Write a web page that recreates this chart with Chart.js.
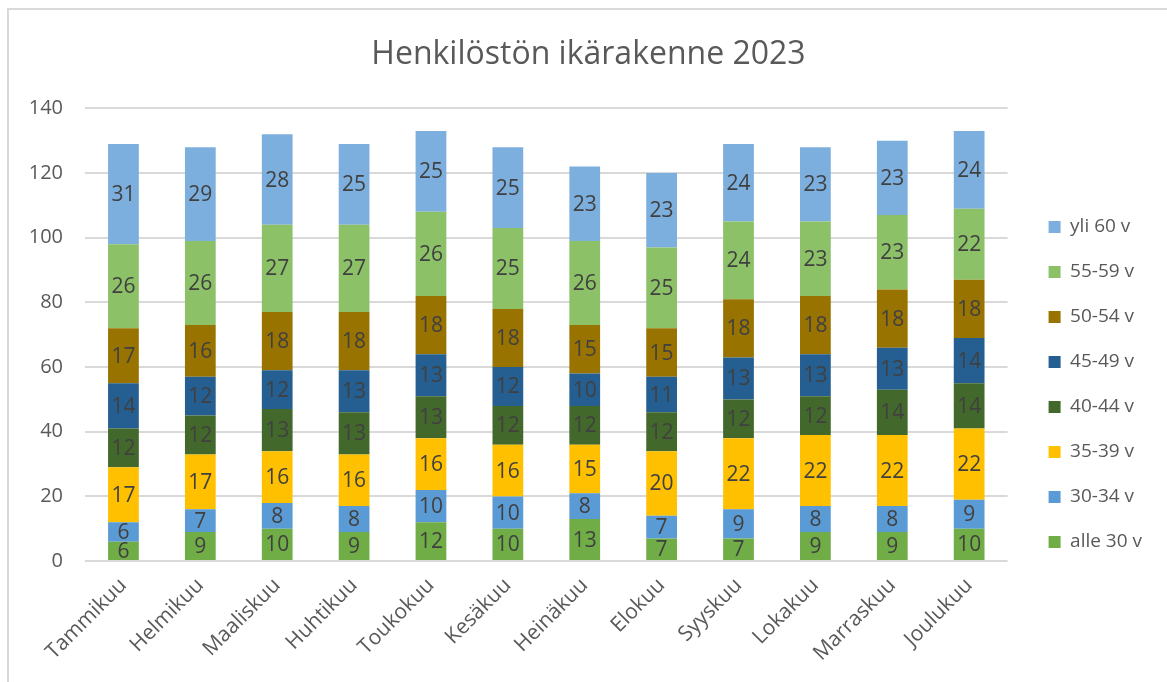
<!DOCTYPE html>
<html>
<head>
<meta charset="utf-8">
<script src="https://cdn.jsdelivr.net/npm/chart.js@4"></script>
<style>
    html, body { margin: 0; padding: 0; background: #fff; }
    #wrap { position: relative; width: 1167px; height: 682px; overflow: hidden; }
    #frame { position: absolute; left: 7px; top: 8px; width: 1300px; height: 800px; border-left: 2px solid #d9d9d9; border-top: 2px solid #d9d9d9; }
    canvas { position: absolute; left: 0; top: 0; }
</style>
</head>
<body>
<div id="wrap">
    <div id="frame"></div>
    <canvas id="ageChart" width="1167" height="682"></canvas>
</div>
<script>
const months = ['Tammikuu', 'Helmikuu', 'Maaliskuu', 'Huhtikuu', 'Toukokuu', 'Kesäkuu',
    'Heinäkuu', 'Elokuu', 'Syyskuu', 'Lokakuu', 'Marraskuu', 'Joulukuu'];

const alle30 = [6, 9, 10, 9, 12, 10, 13, 7, 7, 9, 9, 10];
const v30_34 = [6, 7, 8, 8, 10, 10, 8, 7, 9, 8, 8, 9];
const v35_39 = [17, 17, 16, 16, 16, 16, 15, 20, 22, 22, 22, 22];
const v40_44 = [12, 12, 13, 13, 13, 12, 12, 12, 12, 12, 14, 14];
const v45_49 = [14, 12, 12, 13, 13, 12, 10, 11, 13, 13, 13, 14];
const v50_54 = [17, 16, 18, 18, 18, 18, 15, 15, 18, 18, 18, 18];
const v55_59 = [26, 26, 27, 27, 26, 25, 26, 25, 24, 23, 23, 22];
const yli60 = [31, 29, 28, 25, 25, 25, 23, 23, 24, 23, 23, 24];

const yTicks = [0, 20, 40, 60, 80, 100, 120, 140];

const FONT = "'Open Sans', sans-serif";

// values written in the middle of each bar segment
const segmentLabels = {
    id: 'segmentLabels',
    afterDatasetsDraw(chart) {
        const ctx = chart.ctx;
        ctx.save();
        ctx.font = "21px " + FONT;
        ctx.fillStyle = '#404040';
        ctx.textAlign = 'center';
        ctx.textBaseline = 'middle';
        chart.data.datasets.forEach((ds, i) => {
            const meta = chart.getDatasetMeta(i);
            meta.data.forEach((bar, j) => {
                const mid = (bar.y + bar.base) / 2;
                ctx.fillText(String(ds.data[j]), bar.x, mid + 1);
            });
        });
        ctx.restore();
    }
};

function series(label, data, color) {
    return {
        label: label,
        data: data,
        backgroundColor: color,
        borderWidth: 0,
        barPercentage: 0.4,
        categoryPercentage: 1
    };
}

const ctx = document.getElementById('ageChart').getContext('2d');
const ageChart = new Chart(ctx, {
    type: 'bar',
    data: {
        labels: months,
        datasets: [
            series('alle 30 v', alle30, '#70ad47'),
            series('30-34 v', v30_34, '#5b9bd5'),
            series('35-39 v', v35_39, '#ffc000'),
            series('40-44 v', v40_44, '#43682b'),
            series('45-49 v', v45_49, '#255e91'),
            series('50-54 v', v50_54, '#997300'),
            series('55-59 v', v55_59, '#8cc168'),
            series('yli 60 v', yli60, '#7cafdd')
        ]
    },
    options: {
        responsive: false,
        animation: false,
        layout: {
            padding: { left: 25, top: 20, right: 15, bottom: 12 }
        },
        plugins: {
            title: {
                display: true,
                text: 'Henkilöstön ikärakenne 2023',
                color: '#595959',
                font: { family: FONT, size: 32, weight: 'normal' },
                padding: { top: 16, bottom: 34 }
            },
            legend: {
                position: 'right',
                reverse: true,
                title: {
                    display: true,
                    text: ' ',
                    font: { size: 10 },
                    padding: { top: 67, bottom: 0 }
                },
                labels: {
                    boxWidth: 12,
                    boxHeight: 12,
                    padding: 26,
                    color: '#595959',
                    font: { family: FONT, size: 19 }
                }
            },
            tooltip: { enabled: false }
        },
        scales: {
            x: {
                stacked: true,
                grid: { display: false },
                border: { display: false },
                ticks: {
                    color: '#595959',
                    font: { family: FONT, size: 21 },
                    maxRotation: 45,
                    minRotation: 45,
                    padding: 4
                }
            },
            y: {
                stacked: true,
                min: 0,
                max: 140,
                afterBuildTicks(scale) {
                    scale.ticks = yTicks.map(v => ({ value: v }));
                },
                afterFit(scale) {
                    scale.width = 60;
                },
                grid: { color: '#d9d9d9', lineWidth: 2, drawTicks: false },
                border: { display: false },
                ticks: {
                    color: '#595959',
                    font: { family: FONT, size: 20 },
                    padding: 22
                }
            },
            gap: {
                position: 'right',
                display: true,
                grid: { display: false },
                border: { display: false },
                ticks: { display: false },
                afterFit(scale) {
                    scale.width = 15;
                }
            }
        }
    },
    plugins: [segmentLabels]
});
</script>
</body>
</html>
